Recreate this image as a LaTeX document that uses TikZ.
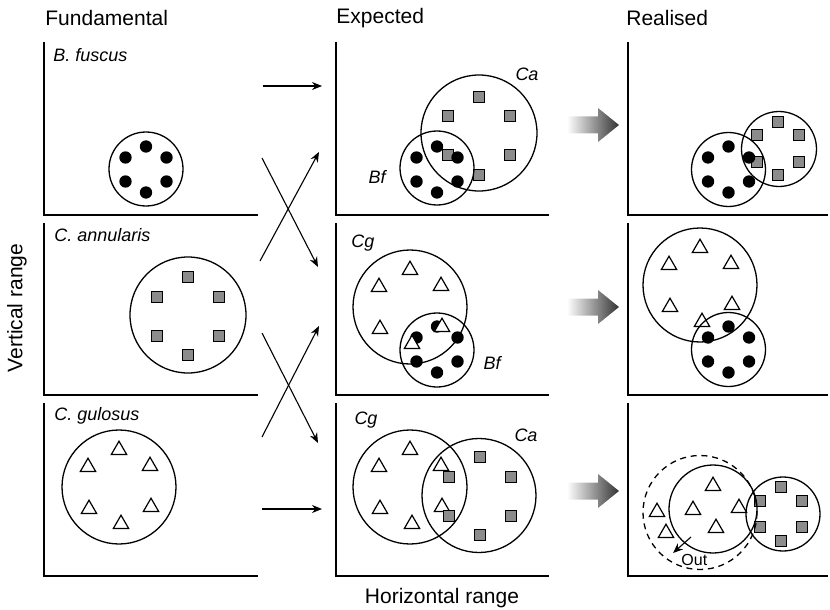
\documentclass[tikz,border=0pt]{standalone}
\usepackage{fontspec}
\setmainfont{Liberation Sans}
\usetikzlibrary{arrows.meta,shapes.geometric}

\tikzset{
	axisline/.style={line width=0.85pt},
	nicheline/.style={line width=0.65pt},
	bfdot/.style={circle,fill=black,inner sep=0pt,minimum size=6.2pt},
	casq/.style={rectangle,draw=black,fill=black!45,line width=0.5pt,inner sep=0pt,minimum size=5.5pt},
	cgtri/.style={regular polygon,regular polygon sides=3,draw=black,fill=white,line width=0.6pt,inner sep=0pt,minimum size=8.8pt},
	shiftarrow/.style={-{Stealth[length=5pt,width=4pt]},line width=0.55pt},
	species/.style={font=\fontsize{9}{10}\selectfont\itshape,anchor=west,inner sep=0pt},
	heading/.style={font=\fontsize{10.5}{12}\selectfont,inner sep=0pt},
	gradarrow/.style={left color=white,right color=black!80,draw=none},
}

% six individuals round a centre
\newcommand{\bfdots}[2]{\foreach \dx/\dy in {0/-23,-20.5/-12,20.5/-12,-20.5/12,20.5/12,0/23}{\node[bfdot] at ({#1+\dx},{#2+\dy}) {};}}
\newcommand{\casquares}[3]{\foreach \dx/\dy in {0/-39,-31/-19.5,31/-19.5,-31/19.5,31/19.5,0/39}{\node[casq] at ({#1+#3*\dx},{#2+#3*\dy}) {};}}
\newcommand{\cgtriangles}[2]{\foreach \dx/\dy in {0/-37,-31/-20,31/-21,-30/22,32/20,2/37}{\node[cgtri] at ({#1+\dx},{#2+\dy}) {};}}

\begin{document}
\begin{tikzpicture}[x=0.5pt,y=-0.5pt]
	\useasboundingbox (0,0) rectangle (830,610);
	
	\foreach \xl/\xr in {44/258, 336/549, 628/828}
		\foreach \yt/\yb in {42/215, 223/395, 403/576}
			\draw[axisline] (\xl,\yt) |- (\xr,\yb); % Panelernas axlar
	
	\node[heading,anchor=west] (fund) at (45,18) {Fundamental};
	\node[heading,anchor=west] (expe) at (336,18) {Expected};
	\node[heading,anchor=west] (real) at (626,18) {Realised};
	\node[heading] (hrange) at (442,598) {Horizontal range};
	\node[heading,rotate=90] (vrange) at (17,308) {Vertical range};
	
	\node[species] (bfus) at (53,55) {B. fuscus};
	\node[species] (cann) at (54,235) {C. annularis};
	\node[species] (cgul) at (54,416) {C. gulosus};
	
	% Fundamental
	\bfdots{146}{169.5}
	\draw[nicheline] (146,169) circle[radius=37];
	\casquares{188}{316}{1}
	\draw[nicheline] (188,315) circle[radius=58];
	\cgtriangles{119}{487}
	\draw[nicheline] (119,487) circle[radius=57];
	
	% Expected
	\casquares{479}{136}{1}
	\bfdots{437}{169.5}
	\draw[nicheline] (479,133) circle[radius=58];
	\draw[nicheline] (437,168) circle[radius=37];
	\node[species,anchor=center] (ca1) at (527,74) {Ca};
	\node[species,anchor=center] (bf1) at (377,177) {Bf};
	
	\bfdots{437}{349.5}
	\cgtriangles{410}{307}
	\draw[nicheline] (410,307) circle[radius=57];
	\draw[nicheline] (437,350) circle[radius=37];
	\node[species,anchor=center] (cg2) at (363,243) {Cg};
	\node[species,anchor=center] (bf2) at (492,363) {Bf};
	
	\cgtriangles{410}{487}
	\casquares{480}{496}{1}
	\draw[nicheline] (410,487) circle[radius=57];
	\draw[nicheline] (479,495.5) circle[radius=57];
	\node[species,anchor=center] (cg3) at (366,420) {Cg};
	\node[species,anchor=center] (ca3) at (526,435) {Ca};
	
	% Realised
	\casquares{778}{148.5}{0.68}
	\bfdots{728.5}{169.5}
	\draw[nicheline] (728.5,169.5) circle[radius=37];
	\draw[nicheline] (779,149) circle[radius=37.5];
	
	\bfdots{728.5}{349.5}
	\cgtriangles{700}{285}
	\draw[nicheline] (700,285) circle[radius=57];
	\draw[nicheline] (728.5,349.5) circle[radius=37];
	
	\foreach \tx/\ty in {713/486, 693/510, 739/508, 716/528, 657/512, 666/533}
		\node[cgtri] at (\tx,\ty) {};
	\casquares{781}{514}{0.68}
	\draw[nicheline,dash pattern=on 3pt off 2.4pt] (700,512.5) circle[radius=57]; % Utanför
	\draw[nicheline] (713,509) circle[radius=44];
	\draw[nicheline] (783,514) circle[radius=37];
	\coordinate (outs) at (691,537);
	\coordinate (oute) at (673,553);
	\draw[shiftarrow] (outs) -- (oute);
	\node[font=\fontsize{8}{9}\selectfont,anchor=west,inner sep=0pt] (out) at (681,560) {Out};
	
	% Pilar mellan kolumnerna
	\coordinate (a1) at (263,86);  \coordinate (b1) at (322,86);
	\coordinate (a2) at (262,158); \coordinate (b2) at (318,267);
	\coordinate (a3) at (260,261); \coordinate (b3) at (319,152);
	\coordinate (a4) at (262,333); \coordinate (b4) at (318,443);
	\coordinate (a5) at (262,437); \coordinate (b5) at (319,326);
	\coordinate (a6) at (262,509); \coordinate (b6) at (322,509);
	\foreach \i in {1,...,6}
		\draw[shiftarrow] (a\i) -- (b\i);
	
	\foreach \y in {125,307,491}
		\shade[gradarrow] (567,{\y-8.5}) -- (598,{\y-8.5}) -- (598,{\y-17}) -- (619,\y) -- (598,{\y+17}) -- (598,{\y+8.5}) -- (567,{\y+8.5}) -- cycle; % Gråtonade pilar
\end{tikzpicture}
\end{document}
